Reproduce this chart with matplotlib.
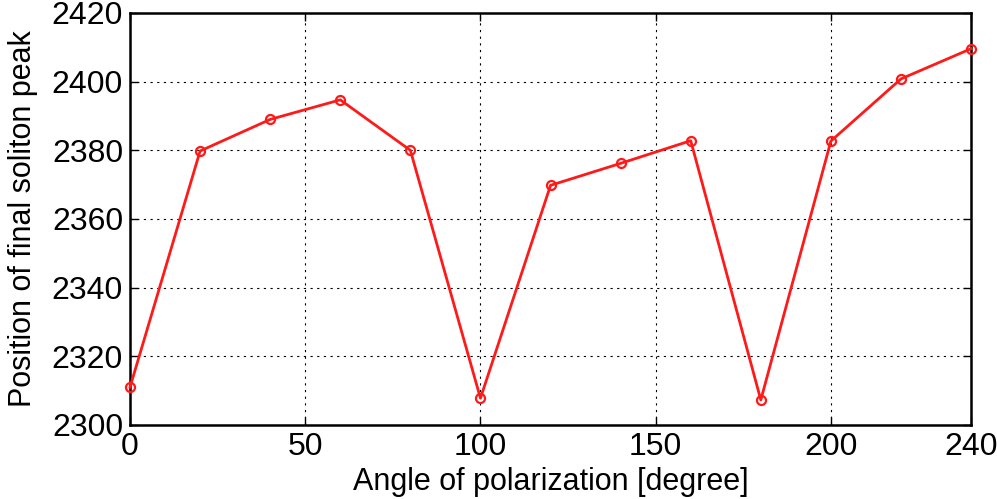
import numpy as np
import matplotlib
matplotlib.use("Agg")
import matplotlib.pyplot as plt

plt.rcParams['font.family'] = ['Liberation Sans', 'DejaVu Sans']

angle = [0, 20, 40, 60, 80, 100, 120, 140, 160, 180, 200, 220, 240]
peak = [2311.0, 2379.8, 2389.0, 2394.7, 2380.0, 2307.8, 2369.8, 2376.2,
        2382.8, 2307.3, 2382.7, 2400.8, 2409.6]
xticks = [0, 50, 100, 150, 200, 240]
yticks = [2300, 2320, 2340, 2360, 2380, 2400, 2420]

fig = plt.figure(figsize=(9.97, 4.99), dpi=100)
ax = fig.add_axes([0.1304, 0.1483, 0.8436, 0.8257])
ax.plot(angle, peak, color='#ff1a1a', linewidth=2.0, marker='o', markersize=6.5,
        markerfacecolor='none', markeredgecolor='#ff1a1a', markeredgewidth=1.6,
        clip_on=False, zorder=3)
ax.set_xlim(0, 240)
ax.set_ylim(2300, 2420)
ax.set_xticks(xticks)
ax.set_yticks(yticks)
ax.grid(True, color='black', linestyle=(0, (2, 4)), linewidth=0.8)
ax.tick_params(direction='in', length=6, width=1, labelsize=23, top=True, right=True, pad=5)
for s in ax.spines.values():
    s.set_linewidth(1.8)
ax.set_xlabel('Angle of polarization [degree]', fontsize=22, labelpad=4)
ax.set_ylabel('Position of final soliton peak', fontsize=22, labelpad=10)
fig.savefig('out.png', dpi=100)
